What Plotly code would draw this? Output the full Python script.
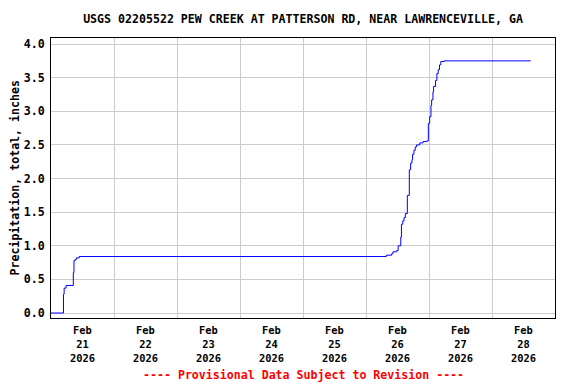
import plotly.graph_objects as go

# Step data: time at which the cumulative value changes, and the new value
times = [
    "2026-02-21 00:00", "2026-02-21 04:45", "2026-02-21 05:00", "2026-02-21 05:45",
    "2026-02-21 08:30", "2026-02-21 08:45", "2026-02-21 09:15", "2026-02-21 09:45",
    "2026-02-21 10:45",
    "2026-02-26 07:45", "2026-02-26 09:45", "2026-02-26 10:15", "2026-02-26 11:45",
    "2026-02-26 12:15", "2026-02-26 13:15", "2026-02-26 13:30", "2026-02-26 14:00",
    "2026-02-26 14:30", "2026-02-26 15:00", "2026-02-26 15:45", "2026-02-26 16:30",
    "2026-02-26 17:00", "2026-02-26 17:30", "2026-02-26 17:45", "2026-02-26 18:15",
    "2026-02-26 18:45", "2026-02-26 19:15", "2026-02-26 20:30", "2026-02-26 21:45",
    "2026-02-26 23:15", "2026-02-26 23:45", "2026-02-27 00:15", "2026-02-27 00:45",
    "2026-02-27 01:00", "2026-02-27 01:30", "2026-02-27 01:45", "2026-02-27 02:30",
    "2026-02-27 03:00", "2026-02-27 03:30", "2026-02-27 04:00", "2026-02-27 04:30",
    "2026-02-27 05:45", "2026-02-28 14:45",
]
precip = [
    0.00, 0.28, 0.37, 0.41,
    0.60, 0.78, 0.80, 0.82,
    0.84,
    0.86, 0.88, 0.91, 0.93,
    1.00, 1.13, 1.32, 1.37,
    1.42, 1.48, 1.75, 2.13,
    2.23, 2.28, 2.36, 2.42,
    2.47, 2.50, 2.53, 2.55,
    2.56, 2.82, 2.92, 3.09,
    3.17, 3.29, 3.37, 3.46,
    3.56, 3.62, 3.69, 3.74,
    3.75, 3.75,
]

tick_vals = ["2026-02-%02d 12:00" % d for d in range(21, 29)]
tick_text = ["Feb<br>%d<br>2026" % d for d in range(21, 29)]
y_ticks = [0.0, 0.5, 1.0, 1.5, 2.0, 2.5, 3.0, 3.5, 4.0]
y_text = ["%.1f" % v for v in y_ticks]

FONT = "DejaVu Sans Mono"
FS = 11.6
XFS = 10.4
OFF = 8  # page body margin offset

W, H = 576 - OFF, 384 - OFF
L, T = 51 - OFF, 38 - OFF
R = W - (555 - OFF)
B = H - (318 - OFF)
PW, PH = W - L - R, H - T - B

fig = go.Figure()
fig.add_trace(go.Scatter(
    x=times, y=precip, mode="lines", line_shape="hv",
    line=dict(color="#0000ff", width=1), showlegend=False,
))

fig.update_layout(
    width=W, height=H,
    margin=dict(l=L, r=R, t=T, b=B, autoexpand=False),
    paper_bgcolor="white", plot_bgcolor="white",
    font=dict(family=FONT, size=FS, color="black", weight="bold"),
    title=dict(
        text="USGS 02205522 PEW CREEK AT PATTERSON RD, NEAR LAWRENCEVILLE, GA",
        x=(303 - OFF) / W, xanchor="center", y=1 - (19 - OFF) / H, yanchor="middle",
        font=dict(family=FONT, size=FS, color="black", weight="bold"),
    ),
)

fig.update_xaxes(
    range=["2026-02-21 00:00", "2026-03-01 00:00"], automargin=False,
    tickmode="array", tickvals=tick_vals, ticktext=tick_text,
    showgrid=False, ticks="", tickfont=dict(family=FONT, size=XFS, weight="bold"),
    ticklabelstandoff=3,
    showline=True, linecolor="black", linewidth=1, mirror=True,
    minor=dict(tick0="2026-02-21", dtick=86400000, showgrid=True,
               gridcolor="#cccccc", gridwidth=1, ticks=""),
    zeroline=False,
)
fig.update_yaxes(
    range=[-0.074, 4.09], automargin=False,
    tickmode="array", tickvals=y_ticks, ticktext=y_text,
    showgrid=True, gridcolor="#cccccc", gridwidth=1, ticks="",
    tickfont=dict(family=FONT, size=FS, weight="bold"),
    ticklabelstandoff=3,
    showline=True, linecolor="black", linewidth=1, mirror=True,
    zeroline=False,
)

fig.add_annotation(
    text="Precipitation, total, inches", textangle=-90,
    xref="paper", yref="paper", x=-(51 - 14.5) / PW, xanchor="center",
    y=(318 - 178) / PH, yanchor="middle", showarrow=False,
    font=dict(family=FONT, size=FS, color="black", weight="bold"),
)
fig.add_annotation(
    text="---- Provisional Data Subject to Revision ----",
    xref="paper", yref="paper", x=0.5, y=-(375 - 318) / PH, yanchor="middle",
    showarrow=False, font=dict(family=FONT, size=FS, color="red", weight="bold"),
)

fig.write_html("out.html")
